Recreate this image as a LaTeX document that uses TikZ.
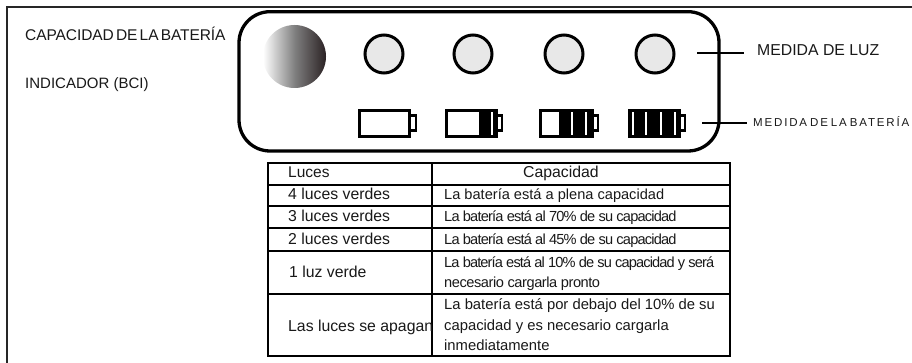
\documentclass[tikz,border=0pt]{standalone}
\usepackage{fontspec}
\setmainfont{Liberation Sans}
\newcommand{\ls}[1]{\addfontfeature{LetterSpace=#1}}
\newcommand{\fs}[1]{\fontsize{#1}{#1}\selectfont}
\definecolor{lampdark}{HTML}{2B2224}
\tikzset{
  x=1pt,y=-1pt,
  frameline/.style={line width=2pt,draw=black!85},
  panel/.style={line width=3.3pt,draw=black,rounded corners=31pt},
  led/.style={circle,draw=black,line width=3pt,fill=black!9,minimum size=38pt,inner sep=0pt},
  leader/.style={line width=2.6pt,draw=black},
  batbody/.style={line width=3pt,draw=black,fill=white},
  battip/.style={line width=2.6pt,draw=black,fill=white},
  gridline/.style={line width=1.9pt,draw=black},
  txt/.style={inner sep=0pt,anchor=base west,text=black!90},
}
\begin{document}
\begin{tikzpicture}
\useasboundingbox (0,0) rectangle (912,363);
\fill[white] (0,0) rectangle (912,363);
% frame
\draw[frameline] (7,363) -- (7,7) -- (912,7);
% panel
\draw[panel] (239,11.7) rectangle (719,151);
% shaded lamp
\shade[left color=white,right color=lampdark,middle color=black!50] (294.5,56.5) circle (31.5);
% LEDs
\node[led] (l1) at (384,54) {};
\node[led] (l2) at (473,54) {};
\node[led] (l3) at (564,54) {};
\node[led] (l4) at (655,54) {};
% leaders
\coordinate (a1) at (697,53); \coordinate (a2) at (744,53);
\coordinate (b1) at (702,123); \coordinate (b2) at (747,123);
\draw[leader] (a1) -- (a2);
\draw[leader] (b1) -- (b2);
% batteries
\draw[battip] (410,115.5) rectangle (416,130.5);
\draw[batbody] (359.5,110.5) rectangle (409.5,136.5);
\draw[battip] (496,115.5) rectangle (502,130.5);
\draw[batbody] (446,110.5) rectangle (496,136.5);
\fill[black] (479,110.5) rectangle (496,136.5);
\fill[white] (491,112) rectangle (492.5,135);
\draw[battip] (592,115.5) rectangle (598,130.5);
\draw[batbody] (540.5,110.5) rectangle (592,136.5);
\fill[black] (559,110.5) rectangle (592,136.5);
\fill[white] (571,112) rectangle (572.5,135);
\fill[white] (585,112) rectangle (586.5,135);
\draw[battip] (679,115.5) rectangle (685,130.5);
\draw[batbody,fill=black] (629,110.5) rectangle (679,136.5);
\fill[white] (632,112) rectangle (633.5,135);
\fill[white] (645,112) rectangle (646.5,135);
\fill[white] (660,112) rectangle (661.5,135);
\fill[white] (674,112) rectangle (675.5,135);
% table
\draw[gridline] (268,163) rectangle (730,356);
\draw[gridline] (432,163) -- (432,356);
\draw[gridline] (268,185) -- (730,185);
\draw[gridline] (268,206) -- (730,206);
\draw[gridline] (268,228) -- (730,228);
\draw[gridline] (268,251) -- (730,251);
\draw[gridline] (268,294) -- (730,294);
% labels
\node[txt,font=\fs{15.5}\ls{-0.5}] (t1) at (25,41) {\spaceskip=2.2pt\relax CAPACIDAD DE LA BATERÍA};
\node[txt,font=\fs{15}] (t2) at (25,89) {INDICADOR (BCI)};
\node[txt,font=\fs{15.8}] (t3) at (757,56) {MEDIDA DE LUZ};
\node[txt,font=\fs{11.5}\ls{16}] (t4) at (753,127) {\spaceskip=3pt\relax MEDIDA DE LA BATERÍA};
\node[txt,font=\fs{15.5}] (h1) at (288,178) {Luces};
\node[txt,font=\fs{15.8}] (h2) at (523,178) {Capacidad};
\node[txt,font=\fs{15.8}] (c1) at (288,200) {4 luces verdes};
\node[txt,font=\fs{15.8}] (c2) at (288,222) {3 luces verdes};
\node[txt,font=\fs{15.8}] (c3) at (288,244) {2 luces verdes};
\node[txt,font=\fs{15.8}] (c4) at (289,277) {1 luz verde};
\node[txt,font=\fs{15.8}] (c5) at (288,331) {Las luces se apagan};
\node[txt,font=\fs{14.6}] (d1) at (444,200) {La batería está a plena capacidad};
\node[txt,font=\fs{14.6}\ls{-5.5}] (d2) at (444,222) {La batería está al 70\% de su capacidad};
\node[txt,font=\fs{14.6}\ls{-5.5}] (d3) at (444,244) {La batería está al 45\% de su capacidad};
\node[txt,font=\fs{14.6}\ls{-5.9}] (d4) at (444,267) {La batería está al 10\% de su capacidad y será};
\node[txt,font=\fs{14.6}\ls{-3}] (d5) at (444,287) {necesario cargarla pronto};
\node[txt,font=\fs{14.8}] (d6) at (444,309) {La batería está por debajo del 10\% de su};
\node[txt,font=\fs{14.8}] (d7) at (444,330) {capacidad y es necesario cargarla};
\node[txt,font=\fs{14.8}] (d8) at (444,350) {inmediatamente};
\end{tikzpicture}
\end{document}
